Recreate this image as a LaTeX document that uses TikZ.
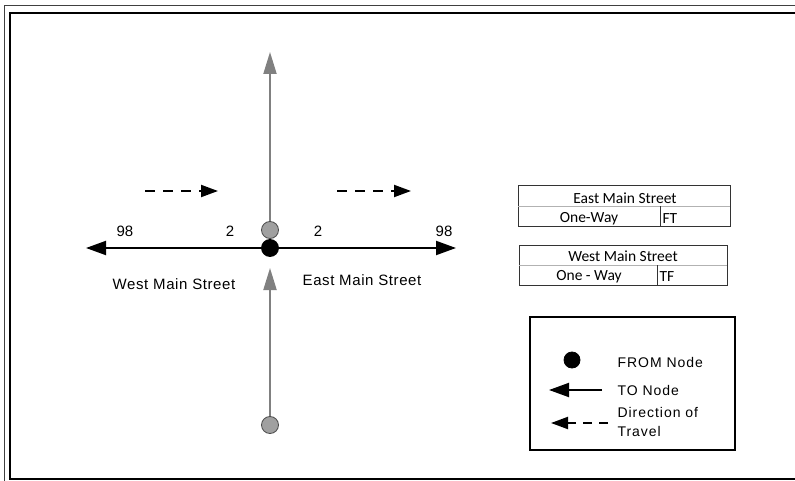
\documentclass[tikz,border=0pt]{standalone}
\usepackage{fontspec}
\setmainfont{Liberation Sans}
\newfontfamily\calib{Carlito}
\newfontfamily\lblfont[LetterSpace=4]{Liberation Sans}
\newfontfamily\legfont[LetterSpace=7]{Liberation Sans}
\usetikzlibrary{arrows.meta}
\definecolor{roadgray}{HTML}{808080}
\definecolor{nodegray}{HTML}{A0A0A0}
\tikzset{
  fromnode/.style={circle, fill=black, draw=black, line width=0.8pt, minimum size=17pt, inner sep=0pt},
  tonode/.style={circle, fill=nodegray, draw=black!70, line width=0.8pt, minimum size=17pt, inner sep=0pt},
  grayarrow/.style={draw=roadgray, line width=2pt, -{Triangle[length=22pt,width=13pt]}},
  blackarrow/.style={draw=black, line width=2pt, -{Triangle[length=20pt,width=14pt]}},
  dasharrow/.style={draw=black, line width=2pt, dash pattern=on 10pt off 8pt, -{Triangle[length=17pt,width=12pt]}},
  numlbl/.style={font=\fontsize{15}{17}\selectfont, text=black},
  streetlbl/.style={font=\lblfont\fontsize{15}{17}\selectfont, text=black},
  celltxt/.style={font=\calib\fontsize{15.5}{17}\selectfont, text=black},
  legtxt/.style={font=\legfont\fontsize{14}{16}\selectfont, text=black, anchor=west, align=left},
}
\begin{document}
\begin{tikzpicture}[x=1pt,y=-1pt]
\useasboundingbox (0,0) rectangle (795,481);
% page frame
\draw[line width=1pt, black!75] (4,6) rectangle (810,492);
\draw[line width=2.5pt] (10,13) rectangle (810,479);

% junction nodes
\node[fromnode] (jn) at (270,248) {};
\node[tonode] (up) at (270,230) {};
\node[tonode] (bot) at (270,425) {};
\coordinate (toptip) at (270,52);
\coordinate (midtip) at (270,268);
\coordinate (westtip) at (86,248);
\coordinate (easttip) at (456,248);

\draw[grayarrow] (up) -- (toptip);
\draw[grayarrow] (bot) -- (midtip);
\draw[blackarrow] (jn) -- (westtip);
\draw[blackarrow] (jn) -- (easttip);

% direction of travel
\coordinate (dwa) at (145,191);
\coordinate (dwb) at (218,191);
\coordinate (dea) at (337,191);
\coordinate (deb) at (411,191);
\draw[dasharrow] (dwa) -- (dwb);
\draw[dasharrow] (dea) -- (deb);

% labels
\node[numlbl] (n98w) at (125,231) {98};
\node[numlbl] (n2w) at (230,231) {2};
\node[numlbl] (n2e) at (318,231) {2};
\node[numlbl] (n98e) at (444,231) {98};
\node[streetlbl] (wms) at (174,284) {West Main Street};
\node[streetlbl] (ems) at (362,280) {East Main Street};

% tables
\draw[line width=1pt, black!80] (518,186) rectangle (730,227);
\draw[line width=0.6pt, black!30] (518,206.5) -- (730,206.5);
\draw[line width=1pt, black!80] (660,206.5) -- (660,227);
\node[celltxt] (t1h) at (625,198) {East Main Street};
\node[celltxt] (t1a) at (589,219) {One-Way};
\node[celltxt, anchor=west] (t1b) at (659,219) {FT};

\draw[line width=1pt, black!80] (519,245) rectangle (727,285);
\draw[line width=0.6pt, black!30] (519,265) -- (727,265);
\draw[line width=1pt, black!80] (657,265) -- (657,285);
\node[celltxt] (t2h) at (623,256) {West Main Street};
\node[celltxt] (t2a) at (589,277) {One - Way};
\node[celltxt, anchor=west] (t2b) at (656,277) {TF};

% legend
\draw[line width=2.5pt] (530,317) rectangle (735,450);
\node[fromnode, minimum size=16pt] (legfrom) at (572,360) {};
\node[legtxt] (lf) at (614,362) {FROM Node};
\coordinate (lta) at (602,390);
\coordinate (ltb) at (549,390);
\draw[blackarrow] (lta) -- (ltb);
\node[legtxt] (lt) at (614,390) {TO Node};
\coordinate (lda) at (608,423);
\coordinate (ldb) at (551,423);
\draw[draw=black, line width=2pt, dash pattern=on 9pt off 7pt, -{Triangle[length=17pt,width=12pt]}] (lda) -- (ldb);
\node[legtxt, font=\legfont\fontsize{14}{19}\selectfont] (ld) at (614,422) {Direction of\\Travel};
\end{tikzpicture}
\end{document}
